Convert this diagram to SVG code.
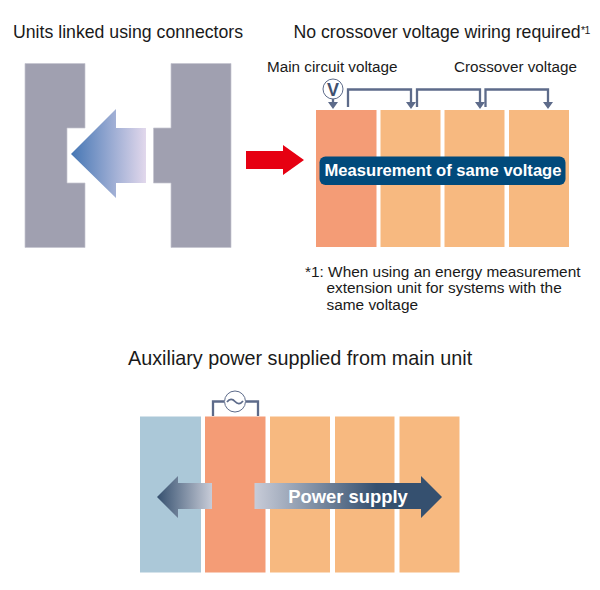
<svg xmlns="http://www.w3.org/2000/svg" width="600" height="590" viewBox="0 0 600 590">
<style>
text{font-family:"Liberation Sans",Arial,sans-serif;fill:#1a1a1a}
.t{font-size:17.700px}.s{font-size:15.250px}.n{font-size:15.400px}
.w{fill:#fff;font-weight:bold}
.g{fill:#a0a0b0;stroke:#c4c4d0;stroke-width:.7}
.m{fill:#f49c76}.o{fill:#f7b980}
.l{fill:none;stroke:#5d6b8a;stroke-width:2.300}
.h{fill:#5d6b8a}
</style>
<defs>
<linearGradient id="ga" x1="0" x2="1" y1="0" y2="0"><stop offset="0" stop-color="#4576b4"/><stop offset="1" stop-color="#e2d8ec"/></linearGradient>
<linearGradient id="gl" x1="0" x2="1" y1="0" y2="0"><stop offset="0" stop-color="#35506f"/><stop offset="1" stop-color="#c8ccd8"/></linearGradient>
<linearGradient id="gr" x1="0" x2="1" y1="0" y2="0"><stop offset="0" stop-color="#c8ccd8"/><stop offset=".65" stop-color="#35506f"/><stop offset="1" stop-color="#35506f"/></linearGradient>
</defs>
<text class="t" x="13" y="38">Units linked using connectors</text>
<text class="t" x="293.500" y="38">No crossover voltage wiring required</text>
<text x="581" y="34" font-size="10.500" letter-spacing="-.5">*1</text>
<g id="unit-left"><path class="g" d="M25 63.500H85V128H67V183H85V247.500H25Z"/></g>
<g id="unit-right"><path class="g" d="M171 63.500H231V247.500H171V183H153.500V128H171Z"/></g>
<g id="link-arrow"><path fill="url(#ga)" d="M71 154 116 109V128H146V183H116V198Z"/></g>
<g id="transition-arrow"><path fill="#e60012" d="M246 151H283V145L304 160 283 175V169H246Z"/></g>
<text class="s" x="267" y="72">Main circuit voltage</text>
<text class="s" x="454" y="72">Crossover voltage</text>
<g id="unit-a1"><rect class="m" x="316" y="110" width="60.500" height="137"/></g>
<g id="unit-a2"><rect class="o" x="380.500" y="110" width="60" height="137"/></g>
<g id="unit-a3"><rect class="o" x="444.500" y="110" width="60" height="137"/></g>
<g id="unit-a4"><rect class="o" x="509" y="110" width="60" height="137"/></g>
<g id="connectors">
<path class="l" d="M333 98V104M348 107V89.500H411V104M417 107V89.500H480V104M485.500 107V89.500H548V104"/>
<path class="h" d="M328 102H338L333 109ZM406 102H416L411 109ZM475 102H485L480 109ZM543 102H553L548 109Z"/>
<path class="l" d="M213 416V401.500H224M246 401.500H258V416"/>
</g>
<g id="voltmeter"><circle cx="333" cy="89" r="10" fill="#fff" stroke="#5d6b8a" stroke-width="1"/><text x="333" y="95.500" text-anchor="middle" font-size="18" font-weight="bold" style="fill:#3f5170">V</text></g>
<g id="same-voltage"><rect x="319.500" y="156.500" width="246" height="28.500" rx="6" fill="#014a7b"/><text class="w" x="443" y="176" text-anchor="middle" font-size="16.600" style="fill:#fff">Measurement of same voltage</text></g>
<text class="n" x="305" y="277">*1: When using an energy measurement</text>
<text class="n" x="326.500" y="293">extension unit for systems with the</text>
<text class="n" x="326.500" y="310">same voltage</text>
<text x="128" y="365" font-size="19.800">Auxiliary power supplied from main unit</text>
<g id="unit-b1"><rect x="140" y="416.500" width="61" height="156" fill="#abc8d8"/></g>
<g id="unit-b2"><rect class="m" x="205" y="416.500" width="60.500" height="156"/></g>
<g id="unit-b3"><rect class="o" x="270" y="416.500" width="60" height="156"/></g>
<g id="unit-b4"><rect class="o" x="335" y="416.500" width="59.500" height="156"/></g>
<g id="unit-b5"><rect class="o" x="399.500" y="416.500" width="60" height="156"/></g>
<g id="ac-source"><circle cx="235" cy="401.500" r="10.500" fill="#fff" stroke="#5d6b8a" stroke-width="1"/><path d="M227 402Q231 397 235 401.500T243 401" fill="none" stroke="#5d6b8a" stroke-width="1.800"/></g>
<g id="left-arrow"><path fill="url(#gl)" d="M157 497 178 476V483H212V509H178V518Z"/></g>
<g id="power-arrow"><path fill="url(#gr)" d="M254.500 483H421V476L442 497 421 518V509H254.500Z"/><text class="w" x="348" y="503" text-anchor="middle" font-size="18.400" style="fill:#fff">Power supply</text></g>
</svg>
